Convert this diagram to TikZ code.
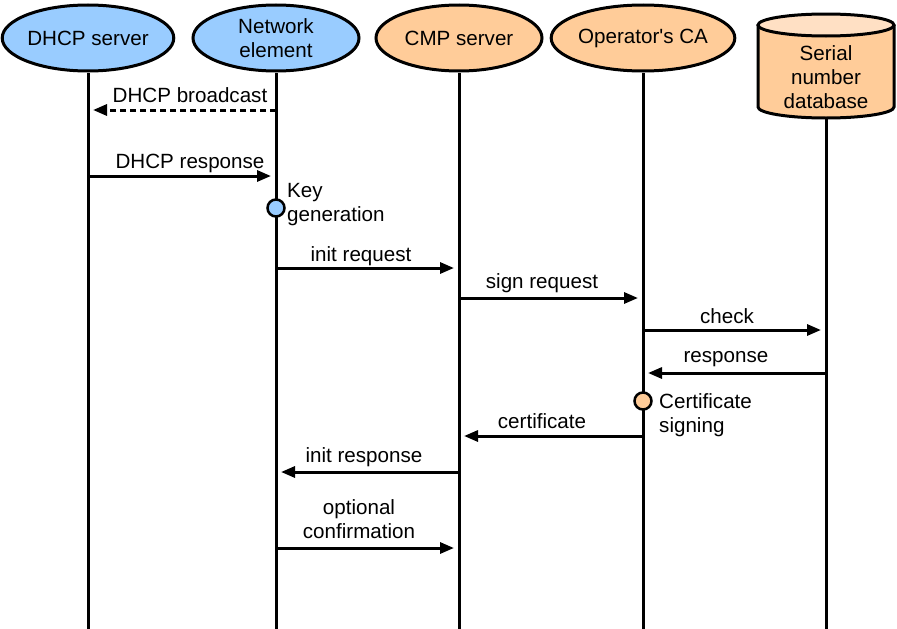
\documentclass[tikz,border=0pt]{standalone}
\usepackage{fontspec}
\setmainfont{Liberation Sans}
\usetikzlibrary{shapes.geometric,arrows.meta}
\definecolor{blueF}{RGB}{153,204,255}
\definecolor{orangeF}{RGB}{255,204,153}
\definecolor{orangeT}{RGB}{255,224,196}
\begin{document}
\begin{tikzpicture}[x=1pt,y=-1pt,
  font=\fontsize{20.6}{24}\selectfont,
  actor/.style={ellipse, draw, line width=3pt, minimum width=166pt, minimum height=66pt, inner sep=0pt, align=center},
  life/.style={line width=3pt},
  msg/.style={line width=3pt, -{Triangle[length=14pt,width=11pt]}, shorten >=5pt},
  dmsg/.style={msg, dash pattern=on 6pt off 4pt},
  lbl/.style={inner sep=0pt, align=center},
  act/.style={circle, draw, line width=2.5pt, minimum size=17pt, inner sep=0pt}]
\useasboundingbox (0,0) rectangle (897,629);
% header actors
\node[actor, fill=blueF] (dhcp) at (88,38) {DHCP server};
\node[actor, fill=blueF] (ne) at (276,38) {Network\\element};
\node[actor, fill=orangeF] (cmp) at (459,38) {CMP server};
\node[actor, fill=orangeF] (ca) at (643,38) {Operator\textquotesingle s CA};
% cylinder
\fill[orangeF] (758,25) -- (758,107) arc (180:0:68 and 11) -- (894,25) -- cycle;
\draw[line width=3pt] (758,25) -- (758,107) arc (180:0:68 and 11) -- (894,25);
\draw[line width=3pt, fill=orangeT] (826,25) ellipse (68 and 11);
\node[lbl] (db) at (826,77) {Serial\\number\\database};
\coordinate (dbb) at (826,118);
% lifelines
\coordinate (dhcpE) at (88,629);
\coordinate (neE) at (276,629);
\coordinate (cmpE) at (459,629);
\coordinate (caE) at (643,629);
\coordinate (dbE) at (826,629);
\draw[life] (dhcp.south) -- (dhcpE);
\draw[life] (ne.south) -- (neE);
\draw[life] (cmp.south) -- (cmpE);
\draw[life] (ca.south) -- (caE);
\draw[life] (dbb) -- (dbE);
% message anchor points
\coordinate (ne1) at (276,110); \coordinate (dh1) at (88,110);
\coordinate (dh2) at (88,176); \coordinate (ne2) at (276,176);
\coordinate (ne4) at (276,268); \coordinate (cm4) at (459,268);
\coordinate (cm5) at (459,298); \coordinate (ca5) at (643,298);
\coordinate (ca6) at (643,330); \coordinate (db6) at (826,330);
\coordinate (db7) at (826,373); \coordinate (ca7) at (643,373);
\coordinate (ca9) at (643,436); \coordinate (cm9) at (459,436);
\coordinate (cm10) at (459,472); \coordinate (ne10) at (276,472);
\coordinate (ne11) at (276,548); \coordinate (cm11) at (459,548);
% messages
\draw[dmsg] (ne1) -- (dh1);
\node[lbl] (l1) at (190,95) {DHCP broadcast};
\draw[msg] (dh2) -- (ne2);
\node[lbl] (l2) at (190,163) {DHCP response};
\node[act, fill=blueF] (kg) at (276,208) {};
\node[lbl, anchor=west, align=left] (kgl) at (287,205) {Key\\generation};
\draw[msg] (ne4) -- (cm4);
\node[lbl] (l4) at (361,256) {init request};
\draw[msg] (cm5) -- (ca5);
\node[lbl] (l5) at (542,283) {sign request};
\draw[msg] (ca6) -- (db6);
\node[lbl] (l6) at (727,316) {check};
\draw[msg] (db7) -- (ca7);
\node[lbl] (l7) at (726,359) {response};
\node[act, fill=orangeF] (cs) at (643,401) {};
\node[lbl, anchor=west, align=left] (csl) at (659,415) {Certificate\\signing};
\draw[msg] (ca9) -- (cm9);
\node[lbl] (l9) at (542,421) {certificate};
\draw[msg] (cm10) -- (ne10);
\node[lbl] (l10) at (364,457) {init response};
\draw[msg] (ne11) -- (cm11);
\node[lbl] (l11) at (359,519) {optional\\confirmation};
\end{tikzpicture}
\end{document}
